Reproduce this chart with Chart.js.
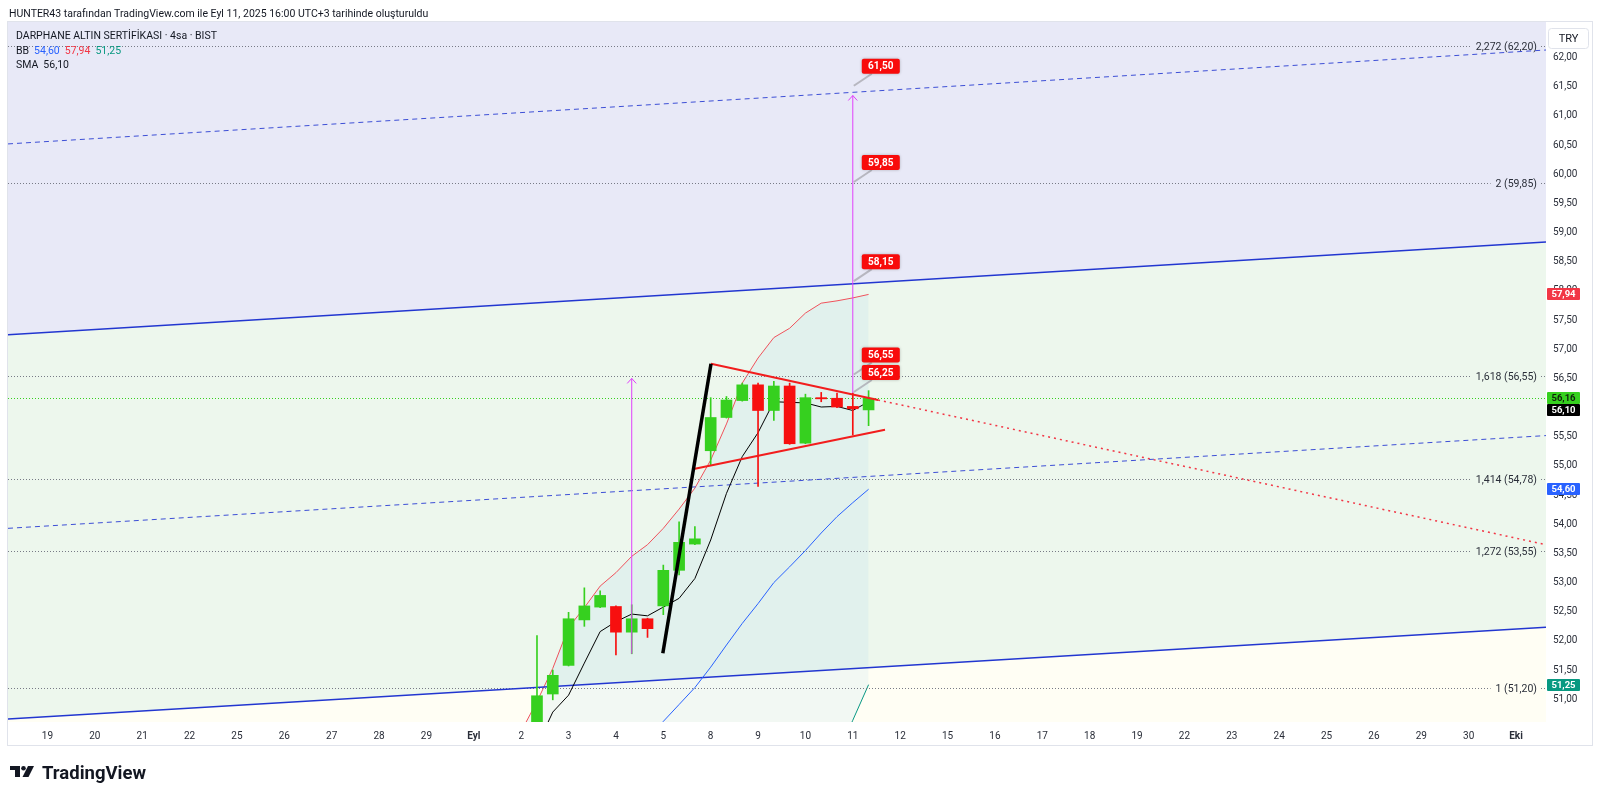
<!DOCTYPE html>
<html>
<head>
<meta charset="utf-8">
<script src="https://cdn.jsdelivr.net/npm/chart.js@4.4.1/dist/chart.umd.min.js"></script>
<style>
  html, body { margin: 0; padding: 0; background: #fff; }
  canvas { display: block; }
</style>
</head>
<body>
<canvas id="chart" width="1600" height="799"></canvas>
<script>
// x axis = bar index (3 bars / day, bar 0 = 19 Aug 10:00)
const DAY_LABELS = ["19", "20", "21", "22", "25", "26", "27", "28", "29", "Eyl", "2", "3", "4", "5", "8", "9",
  "10", "11", "12", "15", "16", "17", "18", "19", "22", "23", "24", "25", "26", "29", "30", "Eki"];
const MONTHS = ["Eyl", "Eki"];
const Y_TICKS = [51.0, 51.5, 52.0, 52.5, 53.0, 53.5, 54.0, 54.5, 55.0, 55.5, 56.0, 56.5,
  57.0, 57.5, 58.0, 58.5, 59.0, 59.5, 60.0, 60.5, 61.0, 61.5, 62.0];
const X_MIN = -2.5, X_MAX = 94.9;
const Y_MIN = 50.61, Y_MAX = 62.61;

// candles, first one = bar 30
const FIRST_BAR = 30;
const OPEN  = [null, 50.45, 51.09, 51.58, 52.36, 52.58, 52.59, 52.15, 52.38, 52.60, 53.21, 53.66, 55.26, 55.83, 56.12, 56.39, 55.95, 56.37, 55.39, 56.17, 56.16, 56.02, 55.96];
const HIGH  = [null, 52.09, 51.50, 52.49, 52.91, 52.86, 52.60, 52.62, 52.39, 53.30, 54.04, 53.96, 56.17, 56.19, 56.42, 56.42, 56.45, 56.42, 56.23, 56.26, 56.25, 56.25, 56.29];
const LOW   = [null, 50.35, 50.99, 51.57, 52.25, 52.57, 51.76, 51.78, 52.06, 52.45, 53.13, 53.65, 55.02, 55.82, 56.11, 54.65, 55.78, 55.37, 55.38, 56.10, 56.00, 55.53, 55.69];
const CLOSE = [null, 51.06, 51.41, 52.38, 52.60, 52.78, 52.15, 52.38, 52.21, 53.21, 53.69, 53.75, 55.83, 56.13, 56.39, 55.95, 56.37, 55.38, 56.17, 56.15, 56.01, 55.98, 56.16];

// indicators
const BB_UPPER = [50.45, 50.96, 51.53, 52.23, 52.57, 52.94, 53.17, 53.45, 53.65, 53.93, 54.26, 54.62, 55.10, 55.72, 56.42, 56.85, 57.20, 57.36, 57.62, 57.79, 57.83, 57.88, 57.94];
const BB_BASIS = [null, null, null, null, null, null, null, null, 50.34, 50.62, 50.91, 51.20, 51.55, 51.93, 52.30, 52.64, 53.00, 53.27, 53.55, 53.85, 54.13, 54.37, 54.60];
const BB_LOWER = [47.60, 47.50, 47.40, 47.30, 47.30, 47.30, 47.30, 47.20, 47.00, 47.30, 47.55, 47.80, 48.00, 48.15, 48.20, 48.45, 48.80, 49.20, 49.50, 49.90, 50.05, 50.64, 51.25];
const SMA      = [49.90, 50.20, 50.78, 51.07, 51.62, 52.16, 52.33, 52.46, 52.43, 52.58, 52.73, 53.07, 53.73, 54.53, 55.16, 55.57, 56.10, 56.09, 56.08, 56.01, 56.02, 55.95, 56.10];

// fib extension levels
const FIB_LEVELS = ["2,272", "2", "1,618", "1,414", "1,272", "1"];
const FIB_PRICES = [62.20, 59.85, 56.55, 54.78, 53.55, 51.20];
const LAST_PRICE = 56.16;

// parallel channel, price at X_MIN and X_MAX
const CH_TOP_DASH = [60.52, 62.13];
const CH_UPPER    = [57.25, 58.84];
const CH_MID_DASH = [53.93, 55.52];
const CH_LOWER    = [50.66, 52.235];

// drawings: [x0, y0, x1, y1]
const TRI_UPPER = [42.02, 56.75, 52.6, 56.13];
const TRI_UPPER_EXT = [52.6, 56.13, X_MAX, 53.65];
const TRI_LOWER = [41.0, 54.95, 53.04, 55.62];
const FLAGPOLE = [38.97, 51.79, 42.02, 56.75];
const ARROW_LEFT = [37, 51.78, 37, 56.50];
const ARROW_RIGHT = [51, 56.25, 51, 61.35];

// target callouts on right arrow
const TARGET_BAR = 51;
const TARGETS = [61.50, 59.85, 58.15, 56.55, 56.25];

// price scale badges
const BADGE_VALUES = [57.94, 56.16, 56.10, 54.60, 51.25];
const BADGE_COLORS = ["#f23645", "#36d01f", "#000000", "#2962ff", "#089981"];
const BADGE_TEXT = ["#fff", "#10210c", "#fff", "#fff", "#fff"];

const GREEN = "#36d01f", RED = "#f70f0f";
const fmt = (v) => v.toFixed(2).replace(".", ",");
const seg = (s) => [{ x: s[0], y: s[1] }, { x: s[2], y: s[3] }];
const span = (v) => [{ x: X_MIN, y: v[0] }, { x: X_MAX, y: v[1] }];
const series = (arr) => arr.map((v, i) => ({ x: FIRST_BAR + i, y: v }));

const candleColors = OPEN.map((o, i) => (CLOSE[i] >= o ? GREEN : RED));
const bodies = OPEN.map((o, i) => ({ x: FIRST_BAR + i, y: o === null ? null : [o, CLOSE[i]] }));
const wicks = OPEN.map((o, i) => ({ x: FIRST_BAR + i, y: o === null ? null : [LOW[i], HIGH[i]] }));

const line = (data, color, width, extra) => Object.assign({
  type: "line", data, borderColor: color, borderWidth: width, pointRadius: 0, tension: 0, fill: false
}, extra || {});

const datasets = [
  line(span(CH_UPPER), "transparent", 0, { fill: "end", backgroundColor: "#e8e9f7" }),
  line(span(CH_UPPER), "transparent", 0, { fill: 2, backgroundColor: "#edf7ed" }),
  line(span(CH_LOWER), "transparent", 0, { fill: "start", backgroundColor: "#fffef4" }),
  line(series(BB_LOWER), "#089981", 1),
  line(series(BB_UPPER), "#f0525c", 1, { fill: { target: 3, above: "rgba(33,150,243,0.06)", below: "rgba(33,150,243,0.06)" } }),
  line(span(CH_TOP_DASH), "#3d4fd6", 1, { borderDash: [5, 4] }),
  line(span(CH_MID_DASH), "#3d4fd6", 1, { borderDash: [5, 4] }),
  line(span(CH_UPPER), "#2236d0", 1.5),
  line(span(CH_LOWER), "#2236d0", 1.5),
  line(series(BB_BASIS), "#2962ff", 1),
  line(series(SMA), "#000000", 1),
  { type: "bar", data: wicks, backgroundColor: candleColors, barThickness: 1, grouped: false, borderWidth: 0 },
  { type: "bar", data: bodies, backgroundColor: candleColors, barThickness: 11, grouped: false, borderWidth: 0, minBarLength: 1 },
  line(seg(TRI_UPPER), "#f21d1d", 2),
  line(seg(TRI_UPPER_EXT), "#f23645", 1.5, { borderDash: [2, 4] }),
  line(seg(TRI_LOWER), "#f21d1d", 2),
  line(seg(FLAGPOLE), "#000000", 3.5),
  line(seg(ARROW_LEFT), "#e040fb", 1),
  line(seg(ARROW_RIGHT), "#e040fb", 1)
];
const BB_UPPER_INDEX = 4;
datasets.forEach((d, i) => { d.order = datasets.length - i; });

const overlay = {
  id: "overlay",
  beforeDraw(chart) {
    const { ctx, width, height } = chart;
    ctx.save();
    ctx.fillStyle = "#fff";
    ctx.fillRect(0, 0, width, height);
    ctx.restore();
  },
  afterDatasetDraw(chart, args) {
    if (args.index !== BB_UPPER_INDEX) return;
    const { ctx, chartArea: a, scales: { y } } = chart;
    ctx.save();
    ctx.font = "10.5px Roboto";
    ctx.textBaseline = "middle";
    ctx.lineWidth = 1;
    FIB_PRICES.forEach((p, i) => {
      const py = Math.round(y.getPixelForValue(p)) + 0.5;
      const text = `${FIB_LEVELS[i]} (${fmt(p)})`;
      const tw = ctx.measureText(text).width;
      const tx = a.right - 9 - tw;
      ctx.strokeStyle = "#787b86";
      ctx.setLineDash([1, 2]);
      ctx.beginPath();
      ctx.moveTo(a.left, py); ctx.lineTo(tx - 5, py);
      ctx.moveTo(a.right - 5, py); ctx.lineTo(a.right, py);
      ctx.stroke();
      ctx.fillStyle = "#2a2e39";
      ctx.fillText(text, tx, py + 0.5);
    });
    const ly = Math.round(y.getPixelForValue(LAST_PRICE)) + 0.5;
    ctx.strokeStyle = GREEN;
    ctx.setLineDash([1, 2]);
    ctx.beginPath();
    ctx.moveTo(a.left, ly); ctx.lineTo(a.right, ly);
    ctx.stroke();
    ctx.restore();
  },
  afterDraw(chart) {
    const { ctx, chartArea: a, scales: { x, y } } = chart;
    ctx.save();

    // arrow heads
    ctx.strokeStyle = "#e040fb";
    ctx.lineWidth = 1;
    [ARROW_LEFT, ARROW_RIGHT].forEach((s) => {
      const px = x.getPixelForValue(s[2]), py = y.getPixelForValue(s[3]);
      ctx.beginPath();
      ctx.moveTo(px - 4.5, py + 5); ctx.lineTo(px, py); ctx.lineTo(px + 4.5, py + 5);
      ctx.stroke();
    });

    // target callouts
    ctx.font = "bold 10px Roboto";
    ctx.textAlign = "center";
    ctx.textBaseline = "middle";
    TARGETS.forEach((p) => {
      const px = x.getPixelForValue(TARGET_BAR), py = y.getPixelForValue(p);
      const bx = px + 9, by = py - 28;
      ctx.strokeStyle = "rgba(170,170,178,0.8)";
      ctx.lineWidth = 2;
      ctx.beginPath();
      ctx.moveTo(px + 1, py - 1); ctx.lineTo(bx + 10, by + 15);
      ctx.stroke();
      ctx.shadowColor = "rgba(0,0,0,0.25)";
      ctx.shadowBlur = 3;
      ctx.fillStyle = "#f80b0b";
      ctx.beginPath();
      ctx.roundRect(bx, by, 38, 15, 2);
      ctx.fill();
      ctx.shadowBlur = 0;
      ctx.fillStyle = "#fff";
      ctx.fillText(fmt(p), bx + 19, by + 8);
    });

    // frame
    ctx.strokeStyle = "#e0e3eb";
    ctx.lineWidth = 1;
    ctx.strokeRect(a.left - 0.5, a.top - 0.5, chart.width - 8 - a.left + 1, 746 - a.top);

    // price badges
    ctx.font = "bold 9.5px Roboto";
    let prevBottom = -Infinity;
    BADGE_VALUES.forEach((v, i) => {
      let top = Math.round(y.getPixelForValue(v)) - 6;
      if (top < prevBottom) top = prevBottom;
      prevBottom = top + 12;
      ctx.fillStyle = BADGE_COLORS[i];
      ctx.beginPath();
      ctx.roundRect(a.right + 1, top, 33, 12, 1);
      ctx.fill();
      ctx.fillStyle = BADGE_TEXT[i];
      ctx.fillText(fmt(v), a.right + 17.5, top + 6.5);
    });

    // currency box
    ctx.strokeStyle = "#e0e3eb";
    ctx.beginPath();
    ctx.roundRect(a.right + 2.5, 28.5, 40, 20, 3);
    ctx.fillStyle = "#fff";
    ctx.fill();
    ctx.stroke();
    ctx.fillStyle = "#131722";
    ctx.font = "11px Roboto";
    ctx.fillText("TRY", a.right + 22.5, 39);

    // header and legend
    ctx.textAlign = "left";
    ctx.font = "10.5px Roboto";
    ctx.fillStyle = "#131722";
    ctx.fillText("HUNTER43 tarafından TradingView.com ile Eyl 11, 2025 16:00 UTC+3 tarihinde oluşturuldu", 9, 14);
    ctx.fillText("DARPHANE ALTIN SERTİFİKASI · 4sa · BIST", 16, 36);
    const parts = [["BB", "#131722"], [fmt(BB_BASIS[BB_BASIS.length - 1]), "#2962ff"],
      [fmt(BB_UPPER[BB_UPPER.length - 1]), "#f23645"], [fmt(BB_LOWER[BB_LOWER.length - 1]), "#089981"]];
    let lx = 16;
    parts.forEach(([t, c]) => {
      ctx.fillStyle = c;
      ctx.fillText(t, lx, 51);
      lx += ctx.measureText(t).width + 5;
    });
    ctx.fillStyle = "#131722";
    ctx.fillText("SMA", 16, 65);
    ctx.fillText(fmt(SMA[SMA.length - 1]), 16 + ctx.measureText("SMA").width + 5, 65);

    // TradingView logo
    ctx.fillStyle = "#131722";
    ctx.fillRect(10, 766, 10, 4);
    ctx.fillRect(15, 766, 5, 11);
    ctx.beginPath();
    ctx.arc(23.5, 768.2, 2.3, 0, Math.PI * 2);
    ctx.fill();
    ctx.beginPath();
    ctx.moveTo(28, 766); ctx.lineTo(34, 766); ctx.lineTo(28.5, 777); ctx.lineTo(22.5, 777);
    ctx.closePath();
    ctx.fill();
    ctx.font = "bold 18.5px Roboto";
    ctx.fillText("TradingView", 42, 774);
    ctx.restore();
  }
};

new Chart(document.getElementById("chart"), {
  type: "line",
  data: { datasets },
  options: {
    responsive: false,
    animation: false,
    devicePixelRatio: 1,
    events: [],
    layout: { padding: { left: 8, top: 22, right: 8, bottom: 53 } },
    plugins: { legend: { display: false }, tooltip: { enabled: false } },
    scales: {
      x: {
        type: "linear", min: X_MIN, max: X_MAX, offset: false,
        afterFit(s) { s.height = 24; },
        afterBuildTicks(s) { s.ticks = DAY_LABELS.map((_, i) => ({ value: i * 3 })); },
        grid: { display: false, drawTicks: false, offset: false },
        border: { display: false },
        ticks: {
          autoSkip: false, maxRotation: 0, padding: 8, color: "#2a2e39",
          font: (c) => ({ family: "Roboto", size: 10, weight: c.tick && MONTHS.includes(DAY_LABELS[Math.round(c.tick.value / 3)]) ? "bold" : "normal" }),
          callback: (v) => DAY_LABELS[Math.round(v / 3)]
        }
      },
      y: {
        type: "linear", position: "right", min: Y_MIN, max: Y_MAX,
        afterFit(s) { s.width = 46; },
        afterBuildTicks(s) { s.ticks = Y_TICKS.map((v) => ({ value: v })); },
        grid: { display: false, drawTicks: false },
        border: { display: false },
        ticks: {
          padding: 7, color: "#2a2e39",
          font: { family: "Roboto", size: 10 },
          callback: (v) => fmt(v)
        }
      }
    }
  },
  plugins: [overlay]
});
</script>
</body>
</html>
